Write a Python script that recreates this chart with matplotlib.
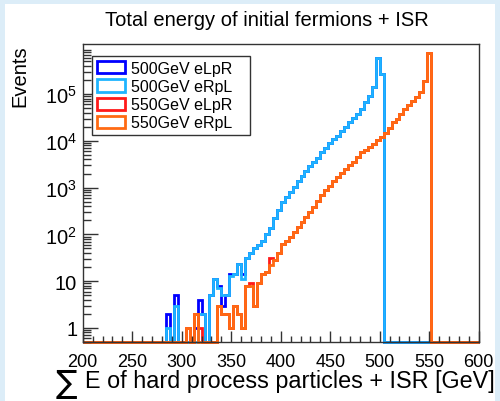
import numpy as np
import matplotlib
matplotlib.use("Agg")
import matplotlib.pyplot as plt
from matplotlib.patches import Patch, Rectangle

plt.rcParams['font.family'] = ['Liberation Sans', 'DejaVu Sans']
plt.rcParams['mathtext.fontset'] = 'custom'
plt.rcParams['mathtext.rm'] = 'Liberation Sans'
plt.rcParams['mathtext.it'] = 'Liberation Sans'

# ---- data: events per 4 GeV bin, 200..600 GeV ----
bin_lo = 200
bin_hi = 600
n_bins = 100

e500_eLpR = [0]*21 + [2, 0, 5, 0, 0, 0, 0, 1, 4, 2, 0, 5, 11, 8, 3, 5, 14, 14, 23, 14,
             32, 41, 52, 60, 73, 100, 140, 225, 340, 485, 630, 815, 1050, 1360, 1750,
             2260, 2880, 3560, 4400, 5650, 7100, 8800, 10800, 13000, 16400, 20300, 24900,
             30500, 38400, 47500, 68000, 91500, 139000, 590000, 270000] + [0]*24
e500_eRpL = [0]*21 + [1, 0, 3, 0, 0, 0, 0, 0, 2, 2, 0, 5, 11, 7, 5, 5, 13, 14, 23, 11,
             32, 41, 52, 60, 73, 100, 140, 225, 340, 485, 630, 815, 1050, 1360, 1750,
             2260, 2880, 3560, 4400, 5650, 7100, 8800, 10800, 13000, 16400, 20300, 24900,
             30500, 38400, 47500, 68000, 91500, 139000, 590000, 270000] + [0]*24
e550_eLpR = [0]*26 + [1, 0, 2, 1, 0, 0, 0, 0, 3, 2, 2, 1, 3, 2, 1, 8, 9, 3, 9, 14, 16, 32,
             28, 41, 61, 72, 90, 111, 141, 181, 232, 300, 395, 520, 680, 880, 1110, 1360,
             1700, 2030, 2490, 3000, 3620, 4520, 5650, 6440, 7460, 8700, 10200, 12000,
             14700, 19200, 24900, 29400, 37300, 47500, 58800, 70000, 84800, 113000,
             192000, 746000] + [0]*12
e550_eRpL = [0]*26 + [1, 0, 2, 0, 0, 0, 0, 0, 3, 2, 2, 1, 3, 2, 1, 8, 8, 3, 9, 14, 16, 22,
             28, 41, 61, 72, 90, 111, 141, 181, 232, 300, 395, 520, 680, 880, 1110, 1360,
             1700, 2030, 2490, 3000, 3620, 4520, 5650, 6440, 7460, 8700, 10200, 12000,
             14700, 19200, 24900, 29400, 37300, 47500, 58800, 70000, 84800, 113000,
             192000, 746000] + [0]*12

labels = ["500GeV eLpR", "500GeV eRpL", "550GeV eLpR", "550GeV eRpL"]
colors = ["#0000ff", "#1eb4ff", "#ff1a1a", "#ff6a13"]
series = [e500_eLpR, e500_eRpL, e550_eLpR, e550_eRpL]

title = "Total energy of initial fermions + ISR"
xlabel = "E of hard process particles + ISR [GeV]"
ylabel = "Events"
xticks = [200, 250, 300, 350, 400, 450, 500, 550, 600]
yticks = [1, 10, 100, 1000, 10000, 100000]
ytick_labels = ["1", "10", r"$10^{2}$", r"$10^{3}$", r"$10^{4}$", r"$10^{5}$"]

ymin, ymax = 0.5, 1.18e6

# ---- figure ----
W, H = 500, 402
fig = plt.figure(figsize=(W/100, H/100), dpi=100)
fig.patch.set_facecolor('#dcedf8')
fig.add_artist(Rectangle((5/W, 0/H), (W-10)/W, (H-5)/H, transform=fig.transFigure,
                         facecolor='white', edgecolor='none', zorder=-10))

ax = fig.add_axes([82.7/W, 1-343/H, 396/W, 298/H])
edges = np.linspace(bin_lo, bin_hi, n_bins+1)
for vals, c in zip(series, colors):
    v = np.array(vals, dtype=float)
    v = np.where(v > 0, v, ymin)
    ax.stairs(v, edges, baseline=None, color=c, lw=2.0, clip_on=False)

ax.set_yscale('log')
ax.set_xlim(bin_lo, bin_hi)
ax.set_ylim(ymin, ymax)
ax.set_xticks(xticks)
ax.set_xticklabels([str(t) for t in xticks])
ax.set_xticks(np.arange(200, 601, 10), minor=True)
ax.set_yticks(yticks)
ax.set_yticklabels(ytick_labels)
ax.tick_params(axis='x', which='major', direction='in', length=8, width=1,
               labelsize=13, top=False, color='#333333', pad=8)
ax.tick_params(axis='x', which='minor', direction='in', length=4.5, width=1,
               top=False, color='#333333')
ax.tick_params(axis='y', which='major', direction='in', length=11, width=1,
               labelsize=14.5, right=False, color='#333333', pad=4)
ax.tick_params(axis='y', which='minor', direction='in', length=6, width=1,
               right=False, color='#333333')
for s in ax.spines.values():
    s.set_color('#333333')
    s.set_linewidth(1)

handles = [Patch(facecolor='none', edgecolor=c, linewidth=2) for c in colors]
leg = ax.legend(handles, labels, loc='upper left', mode='expand',
                bbox_to_anchor=(9.3/396, (343-137)/298, 158/396, 80/298),
                borderaxespad=0, fontsize=11.5, frameon=True, fancybox=False,
                edgecolor='#333333', framealpha=1, handlelength=1.75, handleheight=0.8,
                handletextpad=0.4, labelspacing=0.2, borderpad=0.3)
leg.get_frame().set_linewidth(1)

fig.text(267/W, 1-20/H, title, ha='center', va='center', fontsize=14.5)
fig.text(66/W, 1-385/H, "\u2211", ha='center', va='center', fontsize=23,
         family='DejaVu Sans')
fig.text(495/W, 1-382/H, xlabel, ha='right', va='center', fontsize=16.8)
fig.text(20/W, 1-76/H, ylabel, ha='center', va='center', rotation=90, fontsize=14.5)

fig.savefig("out.png", dpi=100, facecolor=fig.get_facecolor())
